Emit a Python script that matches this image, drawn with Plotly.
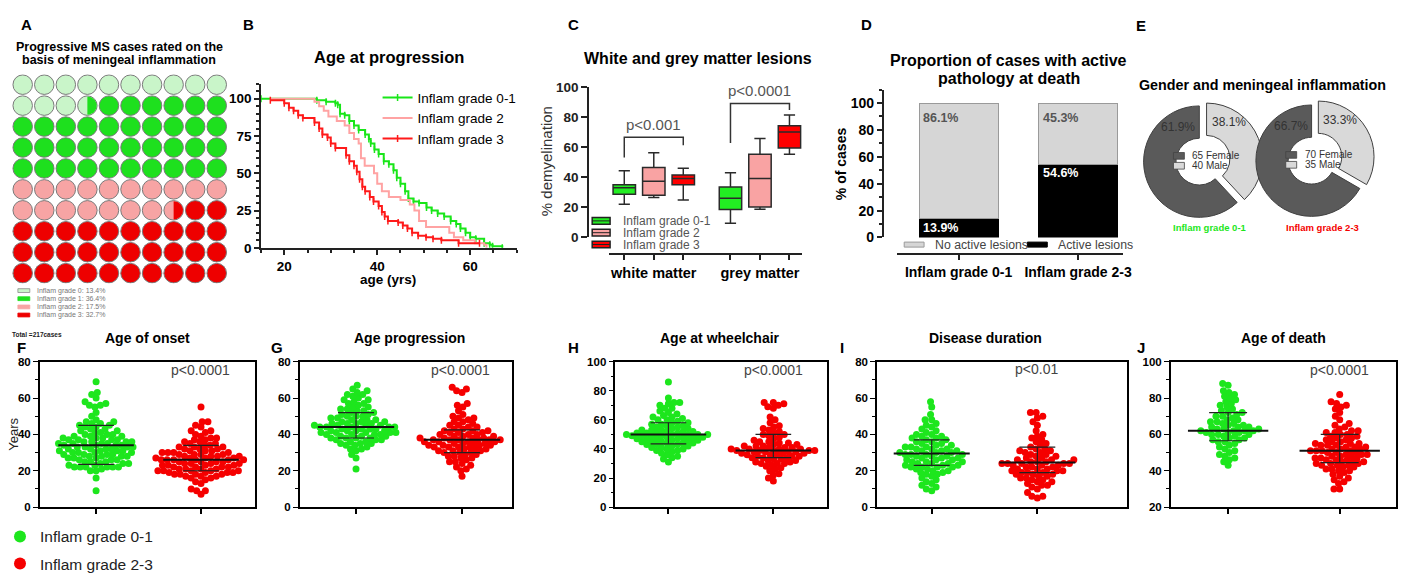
import numpy as np
import plotly.graph_objects as go

W, H = 1412, 581
FONT = "Liberation Sans, Arial, Helvetica, sans-serif"


def PX(x):
    return x / W


def PY(y):
    return 1 - y / H


# ======================= DATA =======================
# A: waffle of cases
waffle_labels = ["Inflam grade 0", "Inflam grade 1", "Inflam grade 2", "Inflam grade 3"]
waffle_pct = [13.4, 36.4, 17.5, 32.7]
total_cases = 217

# B: Kaplan-Meier style "Age at progression"
km_names = ["Inflam grade 0-1", "Inflam grade 2", "Inflam grade 3"]
km01_age = [15, 27, 29, 31, 31.5, 32, 33, 34, 35, 36, 37.4, 38.2, 38.6, 39.4, 40.3, 41.4, 42.5, 43.5,
            44.2, 45, 46, 46.7, 47.8, 49, 50.6, 51.7, 53, 54.4, 55.8, 57, 57.9, 59, 60, 61.2, 63, 64.2,
            64.8, 66.9]
km01_pct = [100, 99, 98, 97, 96, 90, 89, 85, 82, 79, 76, 73, 70, 66, 63, 58, 56, 52,
            47, 43, 38, 33, 31, 30, 27, 25, 23, 21, 18, 16, 13, 10, 7, 6, 3, 2,
            1, 0]
km2_age = [17, 26.5, 27.5, 28.5, 29.5, 31.3, 33, 34, 35, 36, 36.5, 37.3, 39.3, 40, 41, 42.5, 45, 47,
           48, 49, 50.5, 55.5, 56.5, 58.5, 61, 63, 63.5]
km2_pct = [100, 98, 95, 92, 88, 85, 82, 77, 73, 70, 60, 55, 50, 43, 38, 34, 32, 29,
           25, 18, 14, 10, 7, 5, 3, 2, 0]
km3_age = [17, 20, 21, 22, 23, 24, 26.5, 27.5, 28.2, 29.3, 30, 31, 33.3, 34, 35, 35.6, 36.2, 36.8,
           37.4, 38.4, 39.2, 40.3, 41, 41.6, 42.3, 44.5, 45.5, 46.5, 47.5, 48.8, 50.5, 52, 53.8,
           57.5, 62]
km3_pct = [99, 97, 94, 92, 89, 87, 84, 80, 76, 74, 70, 67, 62, 58, 55, 51, 46, 41,
           38, 34, 31, 28, 24, 21, 18, 17, 15, 13, 10, 8, 7, 6, 5,
           3, 3]

# C: box plots (% demyelination)
box_group_labels = ["white matter", "grey matter"]
box_names = ["Inflam grade 0-1", "Inflam grade 2", "Inflam grade 3"]
wm_low = [21.9, 26.4, 24.7]
wm_q1 = [28.5, 27.9, 34.9]
wm_med = [32.8, 37.1, 39.0]
wm_q3 = [34.9, 46.3, 41.3]
wm_high = [44.1, 56.1, 45.8]
gm_low = [9.1, 18.5, 55.2]
gm_q1 = [18.3, 20.0, 59.3]
gm_med = [25.8, 39.0, 70.0]
gm_q3 = [33.4, 55.2, 74.2]
gm_high = [42.8, 65.7, 81.3]
wm_bracket = [53.0, 66.5, 61.2]   # left leg bottom, top, right leg bottom
gm_bracket = [62.7, 89.0, 84.7]
wm_p = "p<0.001"
gm_p = "p<0.0001"

# D: stacked proportions
d_cats = ["Inflam grade 0-1", "Inflam grade 2-3"]
d_series = ["No active lesions", "Active lesions"]
d_active = [13.9, 54.6]
d_none = [86.1, 45.3]

# E: gender donuts
e_groups = ["Inflam grade 0-1", "Inflam grade 2-3"]
e_female = [65, 70]
e_male = [40, 35]

# F-J: individual values (years)
F_g = [9, 16, 20, 20, 21, 22, 22, 22, 22, 22, 22, 23, 23, 24, 24, 24, 25, 25, 25, 26, 26, 26, 27, 27, 27,
       28, 28, 28, 28, 29, 29, 29, 29, 30, 30, 30, 30, 31, 31, 31, 31, 32, 32, 32, 32, 33, 33, 33, 33,
       34, 34, 34, 34, 35, 35, 35, 35, 36, 36, 36, 36, 37, 37, 37, 37, 38, 38, 38, 39, 39, 39, 40, 40,
       40, 41, 41, 42, 42, 43, 43, 44, 44, 45, 45, 46, 46, 47, 47, 48, 50, 52, 55, 56, 56, 57, 58, 60,
       62, 63, 69]
F_r = [7, 9, 9, 10, 13, 14, 15, 16, 16, 17, 17, 17, 18, 18, 18, 18, 19, 19, 19, 19, 20, 20, 20, 20, 20,
       21, 21, 21, 21, 22, 22, 22, 22, 23, 23, 23, 23, 24, 24, 24, 24, 25, 25, 25, 25, 26, 26, 26, 26,
       26, 26, 27, 27, 27, 27, 28, 28, 28, 28, 29, 29, 29, 29, 30, 30, 30, 30, 31, 31, 31, 32, 32, 32,
       33, 33, 33, 34, 34, 35, 35, 36, 36, 37, 37, 38, 38, 39, 40, 41, 42, 42, 44, 45, 47, 47, 55]
G_g = [21, 27, 29, 31, 32, 32, 33, 34, 34, 35, 35, 35, 36, 36, 37, 37, 37, 38, 38, 38, 38, 39, 39, 39,
       40, 40, 40, 40, 41, 41, 41, 41, 41, 42, 42, 42, 42, 43, 43, 43, 43, 44, 44, 44, 44, 44, 45, 45,
       45, 45, 46, 46, 46, 46, 47, 47, 47, 48, 48, 48, 49, 49, 50, 50, 50, 51, 51, 52, 52, 53, 53, 54,
       54, 55, 55, 56, 57, 57, 58, 59, 59, 60, 61, 62, 62, 63, 64, 65, 67]
G_r = [17, 20, 21, 22, 23, 24, 25, 25, 26, 27, 27, 28, 28, 29, 29, 30, 30, 30, 31, 31, 31, 32, 32, 32,
       33, 33, 33, 33, 34, 34, 34, 34, 35, 35, 35, 35, 36, 36, 36, 36, 37, 37, 37, 37, 37, 37, 38, 38,
       38, 38, 39, 39, 39, 40, 40, 40, 41, 41, 41, 42, 42, 42, 43, 43, 44, 44, 45, 45, 46, 47, 47, 48,
       49, 49, 50, 51, 53, 55, 56, 57, 63, 64, 65, 66]
H_g = [31, 33, 34, 35, 36, 37, 38, 39, 39, 40, 40, 41, 41, 42, 42, 43, 43, 43, 44, 44, 44, 45, 45, 45,
       46, 46, 46, 47, 47, 47, 47, 48, 48, 48, 48, 49, 49, 49, 49, 50, 50, 50, 50, 50, 51, 51, 51, 51,
       52, 52, 52, 53, 53, 53, 54, 54, 55, 55, 56, 56, 57, 57, 58, 58, 59, 60, 60, 61, 62, 62, 63, 64,
       65, 66, 68, 68, 70, 71, 72, 72, 75, 86]
H_r = [18, 20, 22, 23, 25, 26, 27, 28, 29, 30, 30, 30, 31, 31, 32, 32, 33, 33, 34, 34, 34, 35, 35, 35,
       36, 36, 36, 37, 37, 37, 38, 38, 38, 38, 39, 39, 39, 39, 39, 40, 40, 40, 40, 41, 41, 41, 42, 42,
       42, 43, 43, 44, 44, 45, 45, 46, 47, 48, 49, 50, 50, 51, 52, 53, 54, 55, 56, 58, 60, 62, 68, 69,
       70, 71, 72, 72]
I_g = [9, 10, 11, 12, 13, 14, 15, 16, 17, 18, 18, 19, 19, 20, 20, 21, 21, 22, 22, 22, 22, 23, 23, 23,
       24, 24, 24, 25, 25, 25, 26, 26, 26, 27, 27, 27, 28, 28, 28, 29, 29, 29, 29, 30, 30, 30, 31, 31,
       31, 32, 32, 32, 33, 33, 33, 34, 34, 35, 35, 36, 36, 37, 37, 38, 38, 39, 39, 40, 40, 41, 42, 43,
       44, 45, 46, 48, 48, 51, 55, 58]
I_r = [5, 6, 6, 8, 10, 11, 12, 12, 13, 14, 14, 15, 15, 16, 16, 17, 17, 18, 18, 18, 19, 19, 19, 20, 20,
       20, 21, 21, 21, 22, 22, 22, 23, 23, 23, 24, 24, 24, 24, 24, 25, 25, 25, 26, 26, 26, 27, 27, 28,
       28, 29, 29, 30, 30, 31, 31, 32, 32, 33, 34, 35, 36, 37, 38, 39, 40, 42, 45, 47, 49, 50, 52, 52]
J_g = [43, 45, 46, 47, 48, 49, 50, 51, 52, 53, 54, 55, 56, 56, 57, 57, 58, 58, 59, 59, 60, 60, 60, 61,
       61, 61, 62, 62, 62, 62, 63, 63, 63, 64, 64, 64, 65, 65, 66, 66, 67, 67, 68, 68, 69, 70, 70, 71,
       72, 72, 73, 74, 75, 76, 77, 78, 79, 80, 81, 82, 83, 84, 87, 88]
J_r = [30, 30, 33, 34, 35, 36, 37, 38, 39, 40, 40, 41, 41, 42, 42, 43, 43, 43, 44, 44, 44, 45, 45, 45,
       46, 46, 46, 47, 47, 47, 48, 48, 48, 49, 49, 49, 50, 50, 50, 51, 51, 51, 51, 52, 52, 52, 53, 53,
       53, 54, 54, 54, 55, 55, 55, 56, 56, 57, 57, 58, 58, 59, 59, 60, 60, 61, 61, 62, 62, 63, 64, 65,
       66, 68, 70, 72, 74, 75, 76, 77, 78, 82]

# medians and interquartile ranges [grade 0-1, grade 2-3]
F_med, F_q1, F_q3 = [34, 26], [23.5, 20], [45, 34]
G_med, G_q1, G_q3 = [44, 37], [38, 30], [52, 42.5]
H_med, H_q1, H_q3 = [50, 39], [43.5, 34], [58, 50]
I_med, I_q1, I_q3 = [29.5, 24.5], [23, 19], [37, 33]
J_med, J_q1, J_q3 = [62, 51], [56.5, 44.5], [72, 60]
swarm_groups = ["Inflam grade 0-1", "Inflam grade 2-3"]

# ======================= STYLE =======================
GREEN = "#1de61d"
RED = "#f50000"
waffle_colors = ["#c9f5c9", "#1ee01e", "#f7a4a4", "#ee0000"]
km_colors = ["#19e619", "#ffa3a3", "#ff1a1a"]
box_colors = ["#22ee22", "#f9a3a3", "#ff0000"]


def ann(text, x, y, size=12, bold=False, color="black", xanchor="center", yanchor="middle", angle=0):
    return dict(text=text, x=PX(x), y=PY(y), xref="paper", yref="paper", showarrow=False,
                font=dict(size=size, color=color, family=FONT, weight="bold" if bold else "normal"),
                xanchor=xanchor, yanchor=yanchor, textangle=angle)


def rect(x0, y0, x1, y1, fill, line="black", lw=1):
    return dict(type="rect", xref="paper", yref="paper", x0=PX(x0), x1=PX(x1), y0=PY(y0), y1=PY(y1),
                fillcolor=fill, line=dict(color=line, width=lw), layer="above")


fig = go.Figure()
annotations = []
shapes = []

# ======================= A: waffle =======================
A_x0, A_x1, A_y0, A_y1 = 12, 229, 70, 288
cols = np.arange(100) % 10
rows = np.arange(100) // 10
cum = np.cumsum(waffle_pct)
base = np.zeros(100, dtype=int)
splits = []
for i in range(100):
    g = min(int(np.searchsorted(cum, i, side="right")), 3)
    frac = cum[g] - i
    if frac < 1:
        f2 = round(frac * 2) / 2
        if f2 == 0:
            base[i] = min(g + 1, 3)
        elif f2 == 0.5:
            base[i] = g
            splits.append((i, min(g + 1, 3)))
        else:
            base[i] = g
    else:
        base[i] = g
msize = 19.5
for g in range(4):
    idx = np.where(base == g)[0]
    fig.add_trace(go.Scatter(x=cols[idx], y=rows[idx], mode="markers", xaxis="x", yaxis="y",
                             marker=dict(size=msize, color=waffle_colors[g], line=dict(color="#7a7a7a", width=1)),
                             showlegend=False, hoverinfo="skip"))
rx = (msize / 2 - 0.3) / ((A_x1 - A_x0) / 10)
ry = (msize / 2 - 0.3) / ((A_y1 - A_y0) / 10)
t = np.linspace(-np.pi / 2, np.pi / 2, 40)
for i, g2 in splits:
    fig.add_trace(go.Scatter(x=cols[i] + rx * np.cos(t), y=rows[i] + ry * np.sin(t), mode="lines",
                             fill="toself", fillcolor=waffle_colors[g2], line=dict(width=0, color=waffle_colors[g2]),
                             xaxis="x", yaxis="y", showlegend=False, hoverinfo="skip"))
annotations += [ann("A", 26.7, 18, 15, True),
                ann("Progressive MS cases rated on the", 120, 42, 12.5, True),
                ann("basis of meningeal inflammation", 120, 55.5, 12.5, True)]
leg_rows = [295.3, 303.7, 312.3, 320.7]
for g in range(4):
    shapes.append(rect(18, leg_rows[g] - 2, 30, leg_rows[g] + 2, waffle_colors[g],
                       line="#8a8a8a" if g == 0 else waffle_colors[g], lw=0.8))
    annotations.append(ann(f"{waffle_labels[g]}: {waffle_pct[g]}%", 35, leg_rows[g], 7, False, "#777",
                           xanchor="left"))
annotations.append(ann(f"Total ={total_cases}cases", 10, 341.5, 6.5, True, "#222", xanchor="left"))

# ======================= B: Kaplan-Meier =======================
km_data = [(km01_age, km01_pct), (km2_age, km2_pct), (km3_age, km3_pct)]
for k, (ax_, ay_) in enumerate(km_data):
    fig.add_trace(go.Scatter(x=ax_, y=ay_, mode="lines" if k == 1 else "lines+markers", line_shape="hv",
                             line=dict(color=km_colors[k], width=2),
                             marker=dict(symbol="line-ns", size=5, color=km_colors[k],
                                         line=dict(width=1.5, color=km_colors[k])),
                             name=km_names[k], xaxis="x2", yaxis="y2", legend="legend", hoverinfo="skip"))
annotations += [ann("B", 250, 18, 15, True),
                ann("Age at progression", 391.7, 52.3, 16.5, True),
                ann("age (yrs)", 390, 284, 13.5, True)]

# ======================= C: box plots =======================
box_pos = [0, 1, 2, 3.6, 4.6, 5.6]
lows = wm_low + gm_low
q1s = wm_q1 + gm_q1
meds = wm_med + gm_med
q3s = wm_q3 + gm_q3
highs = wm_high + gm_high
for j in range(6):
    k = j % 3
    fig.add_trace(go.Box(x=[box_pos[j]], lowerfence=[lows[j]], q1=[q1s[j]], median=[meds[j]], q3=[q3s[j]],
                         upperfence=[highs[j]], width=0.76, whiskerwidth=0.5, fillcolor=box_colors[k],
                         line=dict(color="#2a2a2a", width=1.5), boxpoints=False,
                         xaxis="x3", yaxis="y3", showlegend=False, hoverinfo="skip", name=box_names[k]))
for (b, pos, lbl) in [(wm_bracket, (box_pos[0], box_pos[2]), wm_p), (gm_bracket, (box_pos[3], box_pos[5]), gm_p)]:
    fig.add_trace(go.Scatter(x=[pos[0], pos[0], pos[1], pos[1]], y=[b[0], b[1], b[1], b[2]], mode="lines",
                             line=dict(color="#333", width=1.5), xaxis="x3", yaxis="y3",
                             showlegend=False, hoverinfo="skip"))
    fig.add_annotation(x=(pos[0] + pos[1]) / 2, y=b[1] + 8.5, xref="x3", yref="y3", text=lbl, showarrow=False,
                       font=dict(size=15, color="#555", family=FONT))
c_leg_y = [222.7, 235, 247.3]
for k in range(3):
    shapes.append(rect(596, c_leg_y[k] - 3.5, 614, c_leg_y[k] + 3.5, box_colors[k], "#222", 1.5))
    shapes.append(dict(type="line", xref="paper", yref="paper", x0=PX(596), x1=PX(614), y0=PY(c_leg_y[k]),
                       y1=PY(c_leg_y[k]), line=dict(color="#222", width=1), layer="above"))
    annotations.append(ann(box_names[k], 625, c_leg_y[k], 12, False, "#555", xanchor="left"))
annotations += [ann("C", 576.7, 18, 15, True),
                ann("White and grey matter lesions", 702, 53.3, 16, True),
                ann("% demyelination", 550, 160, 15, False, "#333", angle=-90)]

# ======================= D: stacked bars =======================
bar_w = 0.66
d_fill = ["#d6d6d6", "black"]
d_line = ["#9a9a9a", "black"]
fig.add_trace(go.Bar(x=[0, 1], y=d_active, width=bar_w, marker=dict(color=d_fill[1], line=dict(color=d_line[1], width=1)),
                     name=d_series[1], xaxis="x4", yaxis="y4", showlegend=False, hoverinfo="skip"))
fig.add_trace(go.Bar(x=[0, 1], y=d_none, width=bar_w,
                     marker=dict(color=d_fill[0], line=dict(color=d_line[0], width=1)),
                     name=d_series[0], xaxis="x4", yaxis="y4", showlegend=False, hoverinfo="skip"))
for i in range(2):
    fig.add_annotation(x=i - bar_w / 2, y=d_active[i] + d_none[i], xref="x4", yref="y4", text=f"{d_none[i]}%",
                       showarrow=False, xanchor="left", yanchor="top", xshift=2, yshift=-6,
                       font=dict(size=12.5, color="#555", family=FONT, weight="bold"))
    fig.add_annotation(x=i - bar_w / 2, y=d_active[i], xref="x4", yref="y4", text=f"{d_active[i]}%",
                       showarrow=False, xanchor="left", yanchor="top", xshift=2, yshift=0,
                       font=dict(size=12.5, color="white", family=FONT, weight="bold"))
d_leg_x = [910, 1034]
for k in range(2):
    shapes.append(rect(d_leg_x[k], 244.8, d_leg_x[k] + 20, 250, d_fill[k], d_line[k], 1))
    annotations.append(ann(d_series[k], d_leg_x[k] + 29, 247.5, 12.3, False, "#444", xanchor="left"))
annotations += [ann("D", 871.7, 18, 15, True),
                ann("Proportion of cases with active", 1015, 56, 16, True),
                ann("pathology at death", 1015, 74, 16, True),
                ann("% of cases", 846, 163, 14, True, angle=-90)]

# ======================= E: donuts =======================
pie_cx = [1207, 1320]
pie_cy = [161, 160]
r_out = 58
hole = 0.42
pull = 0.14
half = r_out * (1 + pull)
dark, light = "#5a5a5a", "#d9d9d9"
for k in range(2):
    tot = e_female[k] + e_male[k]
    male_frac = e_male[k] / tot
    fig.add_trace(go.Pie(labels=[f"{e_female[k]} Female", f"{e_male[k]} Male"], values=[e_female[k], e_male[k]],
                         hole=hole, sort=False, direction="clockwise", rotation=male_frac * 360,
                         pull=[0, pull], textinfo="none", showlegend=False, hoverinfo="skip",
                         marker=dict(colors=[dark, light], line=dict(color="#404040", width=1)),
                         domain=dict(x=[PX(pie_cx[k] - half), PX(pie_cx[k] + half)],
                                     y=[PY(pie_cy[k] + half), PY(pie_cy[k] - half)])))
    a_d = np.radians(-30)
    a_l = np.radians(30)
    mid = np.radians(male_frac * 180)
    off = pull * r_out
    xd, yd = pie_cx[k] + 42 * np.sin(a_d), pie_cy[k] - 42 * np.cos(a_d)
    xl = pie_cx[k] + 44 * np.sin(a_l) + off * np.sin(mid)
    yl = pie_cy[k] - 44 * np.cos(a_l) - off * np.cos(mid)
    annotations.append(ann(f"{100 * e_female[k] / tot:.1f}%", xd, yd, 12, False, "#333"))
    annotations.append(ann(f"{100 * e_male[k] / tot:.1f}%", xl, yl, 12, False, "#333"))
    lx = pie_cx[k] - 26
    for r_, (lbl, col) in enumerate([(f"{e_female[k]} Female", dark), (f"{e_male[k]} Male", light)]):
        yy = pie_cy[k] - 6 + 10.3 * r_
        shapes.append(rect(lx, yy - 3.5, lx + 11, yy + 3.5, col, "#444", 0.8))
        annotations.append(ann(lbl, lx + 17, yy, 10, False, "#333", xanchor="left"))
    annotations.append(ann(e_groups[k], pie_cx[k] + 11, 229.5, 9.5, True, GREEN if k == 0 else RED))
annotations += [ann("E", 1148, 19, 15, True),
                ann("Gender and meningeal inflammation", 1271, 81, 14.3, True)]


# ======================= F-J: swarm plots =======================
def swarm(values, xpx, ypx, d):
    vals = np.asarray(values, float)
    order = np.argsort(vals, kind="stable")
    placed = []
    out = np.zeros(len(vals))
    for i in order:
        yp = vals[i] * ypx
        forb = []
        for (qx, qy) in placed:
            dy = abs(qy - yp)
            if dy < d:
                dx = np.sqrt(d * d - dy * dy)
                forb.append((qx - dx, qx + dx))
        cands = [0.0] + [e for iv in forb for e in iv]
        cands.sort(key=lambda c: (abs(c), c))
        for c in cands:
            if all(not (lo + 1e-6 < c < hi - 1e-6) for lo, hi in forb):
                out[i] = c
                break
        placed.append((out[i], yp))
    return out / xpx


panels = [
    dict(t="Age of onset", L="F", p="p<0.0001", x0=40, x1=256.7, c0=96.7, c1=202.3, yr=[0, 80],
         g=F_g, r=F_r, med=F_med, q1=F_q1, q3=F_q3, tx=148.3, lx=21.7, px=201.7, py=378.3),
    dict(t="Age progression", L="G", p="p<0.0001", x0=301.7, x1=515, c0=358.3, c1=465, yr=[0, 80],
         g=G_g, r=G_r, med=G_med, q1=G_q1, q3=G_q3, tx=411.7, lx=278.3, px=463.3, py=378.3),
    dict(t="Age at wheelchair", L="H", p="p<0.0001", x0=619.3, x1=832.7, c0=672.7, c1=778.3, yr=[0, 100],
         g=H_g, r=H_r, med=H_med, q1=H_q1, q3=H_q3, tx=725, lx=576.7, px=778.3, py=378.3),
    dict(t="Disease duration", L="I", p="p<0.01", x0=882.7, x1=1134.3, c0=937.7, c1=1044, yr=[0, 80],
         g=I_g, r=I_r, med=I_med, q1=I_q1, q3=I_q3, tx=991.7, lx=847.3, px=1043.3, py=376.7),
    dict(t="Age of death", L="J", p="p<0.0001", x0=1178.3, x1=1405, c0=1236, c1=1348.3, yr=[20, 100],
         g=J_g, r=J_r, med=J_med, q1=J_q1, q3=J_q3, tx=1291.7, lx=1148.3, px=1348.3, py=378.3),
]
PY0, PY1 = 369.3, 520.7
layout_axes = {}
for n, P in enumerate(panels):
    ax_i = n + 5
    xa, ya = f"x{ax_i}", f"y{ax_i}"
    unit = P["c1"] - P["c0"]
    xr = [(P["x0"] - P["c0"]) / unit, (P["x1"] - P["c0"]) / unit]
    ypx = (PY1 - PY0) / (P["yr"][1] - P["yr"][0])
    for gi, (vals, col) in enumerate([(P["g"], GREEN), (P["r"], RED)]):
        xs = gi + swarm(vals, unit, ypx, 5.8)
        fig.add_trace(go.Scatter(x=xs, y=vals, mode="markers", marker=dict(size=7, color=col),
                                 name=swarm_groups[gi], xaxis=xa, yaxis=ya, legend="legend2",
                                 legendgroup=f"g{gi}", showlegend=(n == 0), hoverinfo="skip"))
    lx_, ly_ = [], []
    for gi in range(2):
        lx_ += [gi, gi, None, gi - 0.17, gi + 0.17, None, gi - 0.17, gi + 0.17, None]
        ly_ += [P["q1"][gi], P["q3"][gi], None, P["q1"][gi], P["q1"][gi], None, P["q3"][gi], P["q3"][gi], None]
    fig.add_trace(go.Scatter(x=lx_, y=ly_, mode="lines", line=dict(color="#222", width=1.2),
                             xaxis=xa, yaxis=ya, showlegend=False, hoverinfo="skip"))
    medx, medy = [], []
    for gi in range(2):
        medx += [gi - 0.36, gi + 0.36, None]
        medy += [P["med"][gi], P["med"][gi], None]
    fig.add_trace(go.Scatter(x=medx, y=medy, mode="lines", line=dict(color="#111", width=2),
                             xaxis=xa, yaxis=ya, showlegend=False, hoverinfo="skip"))
    layout_axes[f"xaxis{ax_i}"] = dict(domain=[PX(P["x0"]), PX(P["x1"])], range=xr, anchor=ya,
                                       showline=True, linecolor="black", linewidth=1.5, mirror=True,
                                       tickvals=[0, 1], ticktext=["", ""], ticks="outside", ticklen=5,
                                       tickwidth=1.5, tickcolor="black", showgrid=False, zeroline=False)
    layout_axes[f"yaxis{ax_i}"] = dict(domain=[PY(PY1), PY(PY0)], range=P["yr"], anchor=xa,
                                       showline=True, linecolor="black", linewidth=1.5, mirror=True,
                                       ticks="outside", ticklen=5, tickwidth=1.3, dtick=20, tickcolor="black",
                                       minor=dict(dtick=10, ticks="outside", ticklen=3, tickcolor="black"),
                                       tickfont=dict(size=11.5, family=FONT, weight="bold"),
                                       showgrid=False, zeroline=False)
    annotations += [ann(P["t"], P["tx"], 345, 14, True),
                    ann(P["L"], P["lx"], 355, 15, True),
                    ann(P["p"], P["px"], P["py"], 14, False, "#444")]
annotations.append(ann("Years", 13.5, 445, 13, False, "#222", angle=-90))

# ======================= LAYOUT =======================
axis_common = dict(showgrid=False, zeroline=False, showline=True, linecolor="#222", linewidth=1.5,
                   ticks="outside", tickcolor="#222", tickwidth=1.5)
fig.update_layout(
    width=W, height=H, margin=dict(l=0, r=0, t=0, b=0), paper_bgcolor="white", plot_bgcolor="white",
    font=dict(family=FONT, color="black"), barmode="stack",
    xaxis=dict(domain=[PX(A_x0), PX(A_x1)], range=[-0.5, 9.5], visible=False, anchor="y"),
    yaxis=dict(domain=[PY(A_y1), PY(A_y0)], range=[9.5, -0.5], visible=False, anchor="x"),
    xaxis2=dict(axis_common, domain=[PX(262.7), PX(520)], range=[15, 70], anchor="y2", dtick=20, ticklen=5,
                minor=dict(dtick=5, ticks="outside", ticklen=3, tickcolor="#222"),
                tickfont=dict(size=13.5, family=FONT, weight="bold")),
    yaxis2=dict(axis_common, domain=[PY(250.7), PY(80)], range=[0, 110], anchor="x2", tickvals=[0, 25, 50, 75, 100],
                ticklen=5, minor=dict(dtick=5, ticks="outside", ticklen=3, tickcolor="#222"),
                tickfont=dict(size=13.5, family=FONT, weight="bold")),
    xaxis3=dict(axis_common, domain=[PX(613), PX(807)], range=[-0.515, 6.02], anchor="free", position=PY(256.7),
                tickvals=box_pos, ticktext=["", box_group_labels[0], "", "", box_group_labels[1], ""], ticklen=6,
                tickfont=dict(size=14.5, family=FONT, weight="bold")),
    yaxis3=dict(axis_common, domain=[PY(239.5), PY(83.3)], range=[0, 100], anchor="free", position=PX(591.7),
                dtick=20, ticklen=6, tickfont=dict(size=13.5, family=FONT, weight="bold", color="#222")),
    xaxis4=dict(axis_common, domain=[PX(903), PX(1130)], range=[-0.513, 1.374], anchor="free", position=PY(256.7),
                tickvals=[0, 1], ticktext=d_cats, ticklen=6, tickfont=dict(size=14, family=FONT, weight="bold")),
    yaxis4=dict(axis_common, domain=[PY(240), PY(86)], range=[0, 110], anchor="free", position=PX(888.3),
                tickvals=[0, 20, 40, 60, 80, 100], ticklen=5,
                minor=dict(dtick=10, ticks="outside", ticklen=3, tickcolor="#222"),
                tickfont=dict(size=14, family=FONT, weight="bold")),
    legend=dict(x=PX(380), y=PY(115.7), xanchor="left", yanchor="middle", bgcolor="rgba(0,0,0,0)",
                font=dict(size=13.5, family=FONT, color="black"), traceorder="normal"),
    legend2=dict(x=PX(0), y=PY(534), xanchor="left", yanchor="top", bgcolor="rgba(0,0,0,0)",
                 font=dict(size=15.5, family=FONT, color="#222"), tracegroupgap=4, traceorder="grouped",
                 itemsizing="constant"),
    annotations=list(fig.layout.annotations) + annotations,
    shapes=shapes,
    **layout_axes,
)

fig.write_html("out.html", include_plotlyjs=True, full_html=True, config={"displayModeBar": False})
with open("out.html", "r", encoding="utf-8") as fh:
    html = fh.read()
html = html.replace("<head>", "<head><style>html,body{margin:0;padding:0;overflow:hidden;}</style>", 1)
with open("out.html", "w", encoding="utf-8") as fh:
    fh.write(html)
